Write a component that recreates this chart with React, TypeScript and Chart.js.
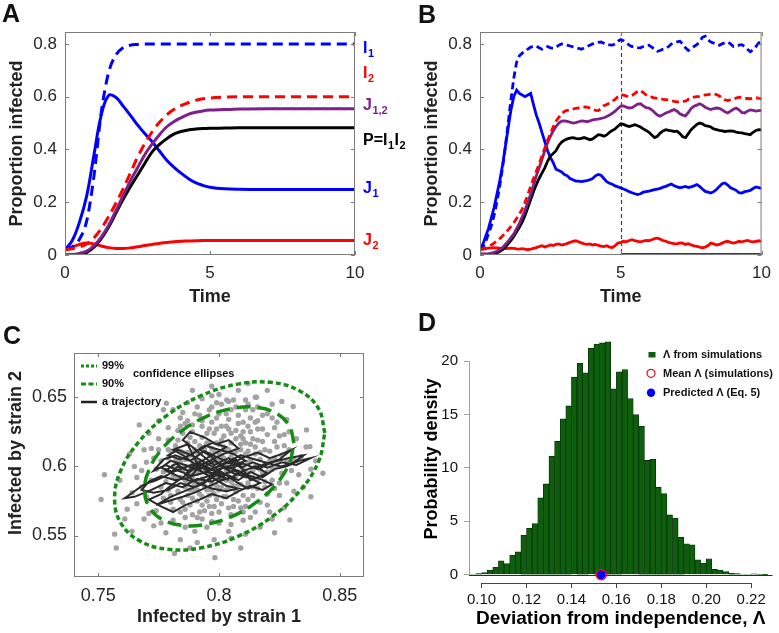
import React, { useEffect, useRef } from 'react';
import { Chart, registerables } from 'chart.js';
Chart.register(...registerables);

const FONT = "'Liberation Sans', Arial, Helvetica, sans-serif";
Chart.defaults.font.family = FONT;

const BLUE = '#0000ff';
const RED = '#ff0000';
const PURPLE = '#7e1f8a';
const BLACK = '#000000';
const GREEN = '#168c16';
const BAR_GREEN = '#0d5f0d';
const TICK = '#262626';

// ---------------- Panel A (deterministic) ----------------
const A_T = [0, 0.25, 0.5, 0.75, 1, 1.25, 1.5, 1.75, 2, 2.25, 2.5, 2.75, 3, 3.25, 3.5, 3.75, 4, 4.25, 4.5, 4.75, 5, 5.5, 6, 7, 8, 9, 10];
const A_I1 = [0.02, 0.03, 0.06, 0.13, 0.3, 0.54, 0.69, 0.757, 0.785, 0.795, 0.798, 0.8, 0.8, 0.8, 0.8, 0.8, 0.8, 0.8, 0.8, 0.8, 0.8, 0.8, 0.8, 0.8, 0.8, 0.8, 0.8];
const A_J1 = [0.02, 0.055, 0.125, 0.225, 0.38, 0.53, 0.604, 0.598, 0.565, 0.53, 0.493, 0.46, 0.43, 0.395, 0.36, 0.333, 0.31, 0.29, 0.274, 0.264, 0.257, 0.251, 0.249, 0.248, 0.248, 0.248, 0.248];
const A_I2 = [0.02, 0.024, 0.03, 0.042, 0.065, 0.1, 0.145, 0.195, 0.25, 0.31, 0.37, 0.422, 0.466, 0.502, 0.53, 0.551, 0.566, 0.577, 0.586, 0.592, 0.595, 0.598, 0.6, 0.6, 0.6, 0.6, 0.6];
const A_J12 = [0, 0.002, 0.006, 0.015, 0.035, 0.068, 0.112, 0.167, 0.224, 0.28, 0.33, 0.38, 0.42, 0.455, 0.485, 0.505, 0.52, 0.533, 0.541, 0.546, 0.549, 0.551, 0.553, 0.554, 0.554, 0.554, 0.554];
const A_P = [0, 0, 0.002, 0.01, 0.03, 0.062, 0.105, 0.158, 0.21, 0.258, 0.302, 0.347, 0.39, 0.418, 0.44, 0.458, 0.468, 0.474, 0.477, 0.479, 0.48, 0.481, 0.482, 0.482, 0.482, 0.482, 0.482];
const A_J2 = [0.02, 0.03, 0.04, 0.045, 0.042, 0.034, 0.028, 0.025, 0.025, 0.027, 0.031, 0.036, 0.04, 0.044, 0.047, 0.05, 0.052, 0.053, 0.054, 0.055, 0.055, 0.055, 0.055, 0.055, 0.055, 0.055, 0.055];
const A_XTICKS = [0, 5, 10];
const A_YTICKS = [0, 0.2, 0.4, 0.6, 0.8];

// ---------------- Panel B (stochastic) ----------------
const B_T = [
  0, 0.1, 0.2, 0.3, 0.4, 0.5, 0.6, 0.7, 0.8, 0.9,
  1, 1.1, 1.2, 1.3, 1.4, 1.5, 1.6, 1.7, 1.8, 1.9,
  2, 2.1, 2.2, 2.3, 2.4, 2.5, 2.6, 2.7, 2.8, 2.9,
  3, 3.1, 3.2, 3.3, 3.4, 3.5, 3.6, 3.7, 3.8, 3.9,
  4, 4.1, 4.2, 4.3, 4.4, 4.5, 4.6, 4.7, 4.8, 4.9,
  5, 5.1, 5.2, 5.3, 5.4, 5.5, 5.6, 5.7, 5.8, 5.9,
  6, 6.1, 6.2, 6.3, 6.4, 6.5, 6.6, 6.7, 6.8, 6.9,
  7, 7.1, 7.2, 7.3, 7.4, 7.5, 7.6, 7.7, 7.8, 7.9,
  8, 8.1, 8.2, 8.3, 8.4, 8.5, 8.6, 8.7, 8.8, 8.9,
  9, 9.1, 9.2, 9.3, 9.4, 9.5, 9.6, 9.7, 9.8, 9.9,
  10,
];
const B_I1 = [
  0.02, 0.03, 0.05, 0.08, 0.11, 0.15, 0.2, 0.26, 0.33, 0.41,
  0.5, 0.59, 0.67, 0.73, 0.755, 0.765, 0.772, 0.78, 0.788, 0.79,
  0.792, 0.785, 0.78, 0.786, 0.79, 0.785, 0.784, 0.787, 0.795, 0.8,
  0.798, 0.795, 0.792, 0.789, 0.786, 0.783, 0.78, 0.785, 0.79, 0.795,
  0.8, 0.803, 0.806, 0.807, 0.802, 0.797, 0.796, 0.795, 0.8, 0.81,
  0.816, 0.812, 0.805, 0.795, 0.79, 0.789, 0.786, 0.785, 0.79, 0.794,
  0.795, 0.788, 0.78, 0.772, 0.775, 0.78, 0.782, 0.79, 0.8, 0.804,
  0.808, 0.81, 0.8, 0.785, 0.775, 0.782, 0.79, 0.797, 0.808, 0.825,
  0.829, 0.815, 0.807, 0.803, 0.798, 0.795, 0.8, 0.805, 0.807, 0.8,
  0.79, 0.792, 0.795, 0.797, 0.79, 0.78, 0.77, 0.778, 0.79, 0.804,
  0.805,
];
const B_J1 = [
  0.02, 0.04, 0.07, 0.1, 0.14, 0.18, 0.23, 0.28, 0.34, 0.41,
  0.48, 0.55, 0.6, 0.625, 0.612, 0.606, 0.6, 0.606, 0.612, 0.57,
  0.53, 0.5, 0.465, 0.43, 0.395, 0.37, 0.35, 0.325, 0.32, 0.315,
  0.305, 0.3, 0.29, 0.285, 0.28, 0.28, 0.278, 0.28, 0.282, 0.285,
  0.29, 0.3, 0.305, 0.302, 0.29, 0.278, 0.272, 0.268, 0.262, 0.258,
  0.254, 0.25, 0.245, 0.24, 0.236, 0.232, 0.229, 0.232, 0.238, 0.24,
  0.242, 0.245, 0.248, 0.25, 0.252, 0.257, 0.26, 0.265, 0.269, 0.262,
  0.258, 0.255, 0.257, 0.26, 0.256, 0.258, 0.262, 0.267, 0.26, 0.25,
  0.241, 0.238, 0.235, 0.24, 0.248, 0.26, 0.27, 0.273, 0.265, 0.255,
  0.25, 0.245, 0.236, 0.235, 0.24, 0.242, 0.245, 0.252, 0.258, 0.255,
  0.252,
];
const B_I2 = [
  0.02, 0.023, 0.027, 0.032, 0.038, 0.045, 0.053, 0.062, 0.072, 0.083,
  0.095, 0.108, 0.122, 0.138, 0.155, 0.175, 0.2, 0.23, 0.26, 0.29,
  0.317, 0.345, 0.375, 0.405, 0.435, 0.46, 0.485, 0.507, 0.522, 0.535,
  0.545, 0.548, 0.55, 0.553, 0.556, 0.557, 0.56, 0.561, 0.56, 0.557,
  0.552, 0.548, 0.547, 0.555, 0.566, 0.57, 0.576, 0.583, 0.59, 0.6,
  0.608, 0.606, 0.602, 0.6, 0.605, 0.612, 0.62, 0.623, 0.615, 0.607,
  0.6, 0.598, 0.595, 0.593, 0.592, 0.59, 0.589, 0.588, 0.585, 0.582,
  0.58, 0.58, 0.582, 0.583, 0.59, 0.595, 0.598, 0.6, 0.601, 0.604,
  0.607, 0.608, 0.61, 0.61, 0.608, 0.603, 0.595, 0.588, 0.585, 0.588,
  0.59, 0.595, 0.598, 0.596, 0.594, 0.593, 0.592, 0.594, 0.596, 0.594,
  0.592,
];
const B_J12 = [
  0.005, 0.004, 0.004, 0.005, 0.007, 0.01, 0.014, 0.02, 0.028, 0.04,
  0.052, 0.066, 0.08, 0.1, 0.12, 0.145, 0.17, 0.2, 0.23, 0.265,
  0.3, 0.33, 0.362, 0.395, 0.425, 0.45, 0.47, 0.487, 0.5, 0.507,
  0.508, 0.506, 0.503, 0.5, 0.502, 0.505, 0.508, 0.507, 0.505, 0.508,
  0.512, 0.514, 0.515, 0.518, 0.52, 0.525, 0.53, 0.537, 0.545, 0.555,
  0.564, 0.565, 0.56, 0.557, 0.558, 0.565, 0.572, 0.573, 0.565, 0.558,
  0.557, 0.55, 0.54, 0.53, 0.526, 0.532, 0.538, 0.542, 0.547, 0.551,
  0.545, 0.535, 0.53, 0.527, 0.54, 0.555, 0.564, 0.568, 0.573, 0.568,
  0.56, 0.555, 0.551, 0.555, 0.557, 0.556, 0.55, 0.543, 0.538, 0.545,
  0.552, 0.557, 0.55, 0.54, 0.538, 0.545, 0.55, 0.548, 0.545, 0.547,
  0.548,
];
const B_P = [
  0, 0, 0, 0.001, 0.002, 0.004, 0.008, 0.013, 0.02, 0.03,
  0.042, 0.055, 0.07, 0.088, 0.105, 0.125, 0.15, 0.18, 0.21, 0.24,
  0.267, 0.29, 0.31, 0.33, 0.355, 0.375, 0.385, 0.395, 0.415, 0.428,
  0.435, 0.44, 0.443, 0.445, 0.442, 0.44, 0.442, 0.445, 0.441, 0.437,
  0.44, 0.448, 0.456, 0.454, 0.45, 0.455, 0.465, 0.472, 0.478, 0.488,
  0.497, 0.495, 0.49, 0.487, 0.49, 0.494, 0.49, 0.485, 0.478, 0.472,
  0.465, 0.455, 0.445, 0.45, 0.462, 0.47, 0.475, 0.472, 0.47, 0.468,
  0.469, 0.46, 0.448, 0.445, 0.46, 0.475, 0.485, 0.495, 0.5, 0.497,
  0.49, 0.488, 0.485, 0.478, 0.475, 0.472, 0.47, 0.468, 0.469, 0.47,
  0.469, 0.466, 0.464, 0.463, 0.46, 0.458, 0.456, 0.465, 0.472, 0.475,
  0.474,
];
const B_J2 = [
  0.02, 0.022, 0.024, 0.026, 0.027, 0.028, 0.027, 0.026, 0.025, 0.024,
  0.025, 0.026, 0.025, 0.023, 0.022, 0.024, 0.022, 0.02, 0.022, 0.025,
  0.028, 0.032, 0.035, 0.03, 0.034, 0.038, 0.036, 0.04, 0.042, 0.038,
  0.04, 0.044, 0.048, 0.052, 0.054, 0.05, 0.046, 0.042, 0.04, 0.042,
  0.038, 0.04, 0.036, 0.034, 0.032, 0.035, 0.03, 0.028, 0.035, 0.045,
  0.048, 0.052, 0.05, 0.055, 0.058, 0.054, 0.052, 0.05, 0.053, 0.055,
  0.054, 0.058, 0.062, 0.064, 0.06, 0.055, 0.052, 0.048, 0.045, 0.043,
  0.042, 0.046, 0.045, 0.04, 0.043, 0.038, 0.035, 0.033, 0.03, 0.027,
  0.03, 0.036, 0.045, 0.042, 0.038, 0.04, 0.045, 0.05, 0.052, 0.048,
  0.045, 0.048, 0.052, 0.05, 0.053, 0.055, 0.052, 0.05, 0.052, 0.054,
  0.052,
];
const B_BASE_T = [5, 10];
const B_BASE_V = [0, 0];
const B_VLINE = 5;

// ---------------- Panel C (scatter) ----------------
const C_POINTS: number[][] = [
  [0.781, 0.586], [0.784, 0.592], [0.787, 0.579], [0.789, 0.601], [0.792, 0.588], [0.795, 0.596], [0.797, 0.583], [0.799, 0.604],
  [0.802, 0.591], [0.804, 0.612], [0.806, 0.598], [0.809, 0.607], [0.811, 0.593], [0.813, 0.616], [0.786, 0.605], [0.79, 0.612],
  [0.793, 0.578], [0.796, 0.609], [0.798, 0.571], [0.801, 0.619], [0.803, 0.583], [0.805, 0.624], [0.808, 0.587], [0.81, 0.62],
  [0.783, 0.598], [0.788, 0.594], [0.791, 0.604], [0.794, 0.586], [0.797, 0.613], [0.8, 0.599], [0.802, 0.606], [0.805, 0.589],
  [0.807, 0.611], [0.812, 0.603], [0.815, 0.609], [0.817, 0.598], [0.785, 0.574], [0.789, 0.583], [0.792, 0.567], [0.795, 0.575],
  [0.799, 0.586], [0.803, 0.578], [0.806, 0.571], [0.781, 0.6], [0.784, 0.611], [0.787, 0.617], [0.79, 0.596], [0.793, 0.621],
  [0.796, 0.627], [0.799, 0.617], [0.801, 0.629], [0.804, 0.634], [0.807, 0.626], [0.81, 0.632], [0.813, 0.625], [0.816, 0.619],
  [0.819, 0.612], [0.821, 0.604], [0.818, 0.627], [0.782, 0.591], [0.786, 0.585], [0.794, 0.601], [0.798, 0.593], [0.8, 0.609],
  [0.806, 0.603], [0.808, 0.596], [0.811, 0.609], [0.814, 0.597], [0.792, 0.598], [0.796, 0.59], [0.803, 0.597], [0.788, 0.608],
  [0.809, 0.616], [0.815, 0.632], [0.812, 0.588], [0.817, 0.605], [0.82, 0.596], [0.823, 0.618], [0.779, 0.583], [0.777, 0.596],
  [0.776, 0.604], [0.78, 0.611], [0.783, 0.619], [0.785, 0.624], [0.79, 0.587], [0.791, 0.575], [0.797, 0.602], [0.801, 0.585],
  [0.804, 0.6], [0.807, 0.582], [0.81, 0.579], [0.814, 0.585], [0.816, 0.591], [0.819, 0.585], [0.822, 0.59], [0.824, 0.6],
  [0.826, 0.608], [0.8, 0.638], [0.797, 0.632], [0.793, 0.629], [0.789, 0.625], [0.786, 0.631], [0.805, 0.641], [0.808, 0.637],
  [0.811, 0.641], [0.798, 0.624], [0.802, 0.614], [0.795, 0.617], [0.788, 0.572], [0.793, 0.562], [0.797, 0.566], [0.801, 0.573],
  [0.805, 0.565], [0.809, 0.57], [0.812, 0.576], [0.784, 0.567], [0.78, 0.574], [0.778, 0.589],
  [0.772, 0.59], [0.77, 0.578], [0.768, 0.597], [0.773, 0.606], [0.774, 0.568], [0.771, 0.566], [0.776, 0.559], [0.781, 0.561],
  [0.786, 0.556], [0.79, 0.553], [0.795, 0.556], [0.8, 0.559], [0.804, 0.553], [0.81, 0.561], [0.815, 0.567], [0.82, 0.572],
  [0.825, 0.579], [0.828, 0.588], [0.83, 0.597], [0.829, 0.612], [0.827, 0.623], [0.824, 0.632], [0.82, 0.638], [0.816, 0.643],
  [0.811, 0.648], [0.804, 0.647], [0.797, 0.643], [0.79, 0.638], [0.784, 0.635], [0.779, 0.628], [0.775, 0.62], [0.772, 0.613],
  [0.768, 0.585], [0.766, 0.573], [0.764, 0.581], [0.766, 0.592], [0.77, 0.603], [0.775, 0.633], [0.781, 0.641], [0.787, 0.646],
  [0.793, 0.649], [0.8, 0.652], [0.808, 0.655], [0.815, 0.65], [0.822, 0.645], [0.828, 0.634], [0.832, 0.62], [0.834, 0.607],
  [0.833, 0.594], [0.831, 0.582], [0.827, 0.57], [0.822, 0.562], [0.817, 0.556], [0.811, 0.551], [0.805, 0.548], [0.798, 0.547],
  [0.791, 0.545], [0.784, 0.547], [0.778, 0.552], [0.773, 0.557], [0.769, 0.562], [0.762, 0.569], [0.765, 0.6], [0.769, 0.612],
  [0.777, 0.641], [0.789, 0.655], [0.82, 0.655], [0.826, 0.647], [0.836, 0.614], [0.838, 0.598], [0.835, 0.585],
  [0.7526, 0.594], [0.7512, 0.576], [0.7568, 0.551], [0.7575, 0.541], [0.7816, 0.537], [0.7983, 0.534], [0.8155, 0.65],
  [0.8307, 0.6433], [0.8362, 0.6264], [0.8376, 0.6143], [0.8293, 0.5613], [0.7782, 0.6457], [0.8032, 0.648], [0.759, 0.59],
  [0.761, 0.562], [0.764, 0.553], [0.788, 0.541], [0.809, 0.541], [0.823, 0.552], [0.84, 0.604], [0.812, 0.66], [0.797, 0.658],
  [0.771, 0.624], [0.767, 0.63], [0.843, 0.595], [0.838, 0.578], [0.763, 0.609],
  [0.776, 0.585], [0.778, 0.597], [0.779, 0.606], [0.78, 0.579], [0.781, 0.593], [0.782, 0.604], [0.782, 0.615], [0.783, 0.582],
  [0.784, 0.576], [0.784, 0.603], [0.785, 0.597], [0.785, 0.61], [0.786, 0.59], [0.786, 0.6], [0.787, 0.588], [0.787, 0.61],
  [0.788, 0.583], [0.788, 0.6], [0.788, 0.621], [0.789, 0.591], [0.789, 0.577], [0.79, 0.605], [0.79, 0.618], [0.791, 0.583],
  [0.791, 0.595], [0.791, 0.61], [0.792, 0.58], [0.792, 0.615], [0.793, 0.591], [0.793, 0.603], [0.793, 0.572], [0.794, 0.596],
  [0.794, 0.612], [0.795, 0.583], [0.795, 0.602], [0.795, 0.624], [0.796, 0.579], [0.796, 0.596], [0.796, 0.617], [0.797, 0.587],
  [0.797, 0.607], [0.798, 0.58], [0.798, 0.599], [0.798, 0.611], [0.799, 0.592], [0.799, 0.627], [0.8, 0.583], [0.8, 0.603],
  [0.8, 0.616], [0.801, 0.594], [0.801, 0.608], [0.802, 0.578], [0.802, 0.6], [0.802, 0.622], [0.803, 0.59], [0.803, 0.611],
  [0.804, 0.584], [0.804, 0.596], [0.804, 0.627], [0.805, 0.607], [0.805, 0.617], [0.806, 0.586], [0.806, 0.61], [0.807, 0.593],
  [0.807, 0.62], [0.808, 0.602], [0.808, 0.631], [0.809, 0.587], [0.809, 0.612], [0.81, 0.598], [0.81, 0.625], [0.811, 0.585],
  [0.811, 0.617], [0.812, 0.595], [0.812, 0.611], [0.813, 0.604], [0.813, 0.635], [0.814, 0.592], [0.814, 0.62], [0.815, 0.6],
  [0.815, 0.614], [0.816, 0.584], [0.816, 0.627], [0.817, 0.61], [0.818, 0.595], [0.818, 0.618], [0.819, 0.602], [0.82, 0.623],
  [0.821, 0.611], [0.822, 0.598], [0.823, 0.606], [0.824, 0.614], [0.825, 0.622], [0.783, 0.626], [0.787, 0.633], [0.792, 0.637],
  [0.796, 0.641], [0.801, 0.645], [0.806, 0.648], [0.779, 0.619], [0.8, 0.567], [0.794, 0.568], [0.786, 0.563], [0.806, 0.576],
  [0.81, 0.567], [0.817, 0.574], [0.82, 0.58], [0.825, 0.588], [0.828, 0.603], [0.827, 0.615], [0.803, 0.638], [0.799, 0.646],
  [0.791, 0.643], [0.775, 0.612], [0.774, 0.598], [0.777, 0.577], [0.781, 0.569], [0.789, 0.565], [0.797, 0.56], [0.805, 0.558],
  [0.813, 0.563], [0.821, 0.567], [0.818, 0.637], [0.812, 0.645], [0.823, 0.628], [0.829, 0.625], [0.826, 0.595], [0.831, 0.605],
  [0.779, 0.612], [0.785, 0.639], [0.797, 0.651], [0.807, 0.643], [0.814, 0.641], [0.793, 0.633], [0.789, 0.63], [0.784, 0.629],
  [0.799, 0.635], [0.803, 0.629], [0.809, 0.622], [0.812, 0.629], [0.816, 0.633], [0.822, 0.635], [0.786, 0.569], [0.791, 0.563],
  [0.796, 0.571], [0.799, 0.576], [0.804, 0.57], [0.808, 0.575], [0.811, 0.571], [0.814, 0.579], [0.819, 0.589], [0.823, 0.584],
];
const C_TRAJ: number[][] = [
  [0.796, 0.598], [0.792, 0.602], [0.788, 0.596], [0.783, 0.6], [0.779, 0.594], [0.774, 0.59], [0.769, 0.587], [0.765, 0.582],
  [0.761, 0.577], [0.765, 0.578], [0.772, 0.583], [0.778, 0.588], [0.785, 0.585], [0.791, 0.591], [0.797, 0.589], [0.803, 0.594],
  [0.808, 0.59], [0.813, 0.596], [0.818, 0.592], [0.823, 0.598], [0.828, 0.6], [0.833, 0.604], [0.838, 0.606], [0.832, 0.601],
  [0.826, 0.603], [0.82, 0.599], [0.814, 0.603], [0.809, 0.599], [0.804, 0.606], [0.798, 0.601], [0.793, 0.608], [0.789, 0.614],
  [0.785, 0.619], [0.788, 0.625], [0.794, 0.621], [0.799, 0.616], [0.804, 0.619], [0.808, 0.613], [0.802, 0.609], [0.796, 0.604],
  [0.79, 0.599], [0.785, 0.592], [0.78, 0.586], [0.776, 0.58], [0.771, 0.576], [0.776, 0.571], [0.781, 0.567], [0.786, 0.572],
  [0.792, 0.576], [0.797, 0.58], [0.803, 0.577], [0.808, 0.582], [0.813, 0.586], [0.818, 0.583], [0.822, 0.587], [0.817, 0.591],
  [0.811, 0.594], [0.806, 0.597], [0.8, 0.593], [0.795, 0.596], [0.789, 0.593], [0.783, 0.597], [0.778, 0.601], [0.773, 0.597],
  [0.777, 0.605], [0.782, 0.608], [0.788, 0.604], [0.794, 0.611], [0.8, 0.606], [0.805, 0.602], [0.811, 0.607], [0.816, 0.61],
  [0.821, 0.606], [0.826, 0.609], [0.83, 0.612], [0.825, 0.605], [0.818, 0.601], [0.812, 0.598], [0.806, 0.593], [0.8, 0.589],
  [0.795, 0.585], [0.79, 0.581], [0.785, 0.578], [0.779, 0.575], [0.774, 0.572], [0.78, 0.578], [0.787, 0.583], [0.793, 0.587],
  [0.799, 0.594], [0.804, 0.59], [0.798, 0.597], [0.791, 0.6], [0.786, 0.607], [0.781, 0.612], [0.787, 0.616], [0.793, 0.595],
  [0.801, 0.601], [0.807, 0.605], [0.813, 0.59], [0.82, 0.595],
  [0.815, 0.6], [0.809, 0.596], [0.803, 0.6], [0.797, 0.595], [0.792, 0.6], [0.788, 0.592], [0.782, 0.59], [0.776, 0.593],
  [0.771, 0.589], [0.768, 0.583], [0.773, 0.581], [0.779, 0.583], [0.784, 0.588], [0.79, 0.585], [0.795, 0.59], [0.8, 0.598],
  [0.806, 0.601], [0.811, 0.604], [0.806, 0.609], [0.8, 0.612], [0.794, 0.615], [0.789, 0.609], [0.784, 0.605], [0.779, 0.608],
  [0.783, 0.612], [0.79, 0.607], [0.796, 0.601], [0.801, 0.596], [0.807, 0.589], [0.812, 0.584], [0.817, 0.588], [0.812, 0.592],
  [0.806, 0.595], [0.801, 0.6], [0.797, 0.607], [0.792, 0.612], [0.797, 0.617], [0.803, 0.614], [0.798, 0.609], [0.793, 0.604],
  [0.787, 0.6], [0.781, 0.596], [0.776, 0.599], [0.78, 0.604], [0.786, 0.601], [0.792, 0.597], [0.798, 0.591], [0.803, 0.586],
  [0.808, 0.584], [0.803, 0.582], [0.797, 0.584], [0.791, 0.588], [0.786, 0.594], [0.791, 0.603], [0.797, 0.598], [0.803, 0.603],
  [0.809, 0.608], [0.815, 0.605], [0.821, 0.602], [0.826, 0.6], [0.831, 0.603], [0.835, 0.608], [0.829, 0.606], [0.822, 0.603],
  [0.816, 0.598], [0.81, 0.602], [0.804, 0.598], [0.798, 0.604], [0.793, 0.599], [0.787, 0.597], [0.782, 0.602], [0.778, 0.597],
  [0.783, 0.593], [0.789, 0.589], [0.794, 0.592], [0.8, 0.596], [0.806, 0.592], [0.8, 0.59],
];
const C_ELLIPSE_99: number[][] = [
  [0.8438, 0.6241], [0.8412, 0.6418], [0.8336, 0.6544], [0.8221, 0.6606], [0.8078, 0.6595], [0.7928, 0.6513],
  [0.7785, 0.6369], [0.767, 0.6181], [0.7594, 0.5972], [0.7568, 0.5767], [0.7594, 0.559], [0.767, 0.5463],
  [0.7785, 0.5401], [0.7928, 0.5412], [0.8078, 0.5494], [0.8221, 0.5638], [0.8336, 0.5826], [0.8412, 0.6035],
  [0.8438, 0.6241],
];
const C_ELLIPSE_90: number[][] = [
  [0.831, 0.6168], [0.8291, 0.6293], [0.8238, 0.6383], [0.8155, 0.6427], [0.8055, 0.6419], [0.7947, 0.636],
  [0.7847, 0.6259], [0.7764, 0.6126], [0.7711, 0.5978], [0.7692, 0.5832], [0.7711, 0.5707], [0.7764, 0.5617],
  [0.7847, 0.5573], [0.7947, 0.5581], [0.8055, 0.5639], [0.8155, 0.5741], [0.8238, 0.5874], [0.8291, 0.6022],
  [0.831, 0.6168],
];
const C_XTICKS = [0.75, 0.8, 0.85];
const C_YTICKS = [0.55, 0.6, 0.65];

// ---------------- Panel D (histogram) ----------------
const D_BIN_START = [
  0.095, 0.0975, 0.1, 0.1025, 0.105, 0.1075, 0.11, 0.1125, 0.115, 0.1175,
  0.12, 0.1225, 0.125, 0.1275, 0.13, 0.1325, 0.135, 0.1375, 0.14, 0.1425,
  0.145, 0.1475, 0.15, 0.1525, 0.155, 0.1575, 0.16, 0.1625, 0.165, 0.1675,
  0.17, 0.1725, 0.175, 0.1775, 0.18, 0.1825, 0.185, 0.1875, 0.19, 0.1925,
  0.195, 0.1975, 0.2, 0.2025, 0.205, 0.2075, 0.21, 0.2125, 0.215, 0.2175,
  0.22, 0.2225, 0.225,
];
const D_DENSITY = [
  0.05, 0.1, 0.2, 0.45, 0.7, 1.3, 1.05, 1.85, 2.15, 3.7,
  4.35, 4.8, 7.2, 8.5, 11.1, 12.5, 14.6, 15.8, 18.5, 19.8,
  18.9, 21.2, 21.6, 21.7, 21.8, 17.4, 19.0, 19.2, 16.5, 15.0,
  13.9, 10.7, 10.8, 8.2, 7.6, 5.6, 5.3, 3.5, 2.9, 2.8,
  1.4, 1.1, 1.5, 0.5, 0.45, 0.3, 0.15, 0.1, 0.05, 0.05,
  0.08, 0.03, 0.02,
];
const D_BIN_WIDTH = 0.0025;
const D_MEAN = 0.1533;
const D_PRED = 0.1531;
const D_XTICKS = [0.1, 0.12, 0.14, 0.16, 0.18, 0.2, 0.22];
const D_YTICKS = [0, 5, 10, 15, 20];

// ---------------- helpers ----------------
const fixedTicks = (vals: number[]) => (scale: any) => {
  scale.ticks = vals.map((v) => ({ value: v }));
};
const fmt = (v: any) => String(Math.round(Number(v) * 1000) / 1000);
const xy = (xs: number[], ys: number[]) => xs.map((x, i) => ({ x, y: ys[i] ?? null }));
const pairs = (arr: number[][]) => arr.map((p) => ({ x: p[0], y: p[1] }));

const boxPlugin = {
  id: 'mbox',
  afterDatasetsDraw(chart: any) {
    const { ctx, chartArea: a, scales } = chart;
    ctx.save();
    ctx.strokeStyle = '#7c7c7c';
    ctx.lineWidth = 1;
    ctx.setLineDash([]);
    ctx.strokeRect(a.left + 0.5, a.top + 0.5, a.right - a.left - 1, a.bottom - a.top - 1);
    const L = 4;
    ctx.beginPath();
    for (const t of scales.x.ticks) {
      const px = Math.round(scales.x.getPixelForValue(t.value)) + 0.5;
      ctx.moveTo(px, a.bottom);
      ctx.lineTo(px, a.bottom - L);
      ctx.moveTo(px, a.top);
      ctx.lineTo(px, a.top + L);
    }
    for (const t of scales.y.ticks) {
      const py = Math.round(scales.y.getPixelForValue(t.value)) + 0.5;
      ctx.moveTo(a.left, py);
      ctx.lineTo(a.left + L, py);
      ctx.moveTo(a.right, py);
      ctx.lineTo(a.right - L, py);
    }
    ctx.stroke();
    ctx.restore();
  },
};

const tickFont = { family: FONT, size: 17 };
const titleFont = { family: FONT, size: 18, weight: 'bold' as const };

function timeScales() {
  return {
    x: {
      type: 'linear', min: 0, max: 10,
      afterBuildTicks: fixedTicks(A_XTICKS),
      afterFit: (s: any) => { s.height = 65; },
      grid: { display: false, drawTicks: false },
      border: { display: false },
      ticks: { font: tickFont, color: TICK, padding: 8, maxRotation: 0, autoSkip: false, callback: fmt },
      title: { display: true, text: 'Time', font: titleFont, color: '#222', padding: 12 },
    },
    y: {
      type: 'linear', min: 0, max: 0.845,
      afterBuildTicks: fixedTicks(A_YTICKS),
      afterFit: (s: any) => { s.width = 65; },
      grid: { display: false, drawTicks: false },
      border: { display: false },
      ticks: { font: tickFont, color: TICK, padding: 8, autoSkip: false, callback: fmt },
      title: { display: true, text: 'Proportion infected', font: titleFont, color: '#222', padding: 6 },
    },
  };
}

// ---------------- Panel A ----------------
const A_LABELS = [
  { parts: [['I', 0], ['1', 1]], color: BLUE, at: 0.785 },
  { parts: [['I', 0], ['2', 1]], color: RED, at: 0.69 },
  { parts: [['J', 0], ['1,2', 1]], color: PURPLE, at: 0.57 },
  { parts: [['P=I', 0], ['1', 1], ['I', 0], ['2', 1]], color: BLACK, at: 0.436 },
  { parts: [['J', 0], ['1', 1]], color: BLUE, at: 0.254 },
  { parts: [['J', 0], ['2', 1]], color: RED, at: 0.057 },
];

const aLabelPlugin = {
  id: 'aLabels',
  afterDraw(chart: any) {
    const { ctx, chartArea: a, scales } = chart;
    ctx.save();
    ctx.textBaseline = 'alphabetic';
    ctx.textAlign = 'left';
    for (const lab of A_LABELS) {
      const yc = scales.y.getPixelForValue(lab.at);
      let x = a.right + 8;
      ctx.fillStyle = lab.color;
      for (const [txt, sub] of lab.parts as any) {
        if (sub) {
          ctx.font = `bold 11px ${FONT}`;
          ctx.fillText(txt, x, yc + 9);
        } else {
          ctx.font = `bold 16px ${FONT}`;
          ctx.fillText(txt, x, yc + 5);
        }
        x += ctx.measureText(txt).width + 0.5;
      }
    }
    ctx.restore();
  },
};

function buildA(): any {
  const line = (label: string, ys: number[], color: string, dash: number[], order: number, mono = true) => ({
    label, data: xy(A_T, ys), borderColor: color, backgroundColor: color, borderWidth: 3, borderDash: dash,
    pointRadius: 0, showLine: true, fill: false,
    cubicInterpolationMode: mono ? 'monotone' : 'default', tension: mono ? 0 : 0.4, order,
  });
  return {
    type: 'scatter',
    data: {
      datasets: [
        line('I2', A_I2, RED, [10, 6], 1),
        line('I1', A_I1, BLUE, [10, 6], 2),
        line('J12', A_J12, PURPLE, [], 3),
        line('P', A_P, BLACK, [], 4),
        line('J1', A_J1, BLUE, [], 5, false),
        line('J2', A_J2, RED, [], 6),
      ],
    },
    options: {
      responsive: false, animation: false, events: [],
      layout: { padding: { left: 0, top: 32, right: 65, bottom: 0 } },
      plugins: { legend: { display: false }, tooltip: { enabled: false } },
      scales: timeScales(),
    },
    plugins: [boxPlugin, aLabelPlugin],
  };
}

// ---------------- Panel B ----------------
const bVlinePlugin = {
  id: 'bVline',
  beforeDatasetsDraw(chart: any) {
    const { ctx, chartArea: a, scales } = chart;
    const x = Math.round(scales.x.getPixelForValue(B_VLINE)) + 0.5;
    ctx.save();
    ctx.strokeStyle = '#444';
    ctx.lineWidth = 1.2;
    ctx.setLineDash([4, 3]);
    ctx.beginPath();
    ctx.moveTo(x, a.top);
    ctx.lineTo(x, a.bottom);
    ctx.stroke();
    ctx.restore();
  },
};

function buildB(): any {
  const line = (label: string, ys: number[], color: string, dash: number[], order: number) => ({
    label, data: xy(B_T, ys), borderColor: color, backgroundColor: color, borderWidth: 2.8, borderDash: dash,
    pointRadius: 0, showLine: true, fill: false, tension: 0, order,
  });
  return {
    type: 'scatter',
    data: {
      datasets: [
        line('I2', B_I2, RED, [7, 4], 1),
        line('I1', B_I1, BLUE, [7, 4], 2),
        line('J12', B_J12, PURPLE, [], 3),
        line('P', B_P, BLACK, [], 4),
        line('J1', B_J1, BLUE, [], 5),
        line('J2', B_J2, RED, [], 6),
        { ...line('base', [], BLACK, [], 0), data: xy(B_BASE_T, B_BASE_V), borderWidth: 3.5 },
      ],
    },
    options: {
      responsive: false, animation: false, events: [],
      layout: { padding: { left: 25, top: 32, right: 9, bottom: 0 } },
      plugins: { legend: { display: false }, tooltip: { enabled: false } },
      scales: timeScales(),
    },
    plugins: [boxPlugin, bVlinePlugin],
  };
}

// ---------------- Panel C ----------------
const cLegendPlugin = {
  id: 'cLegend',
  afterDraw(chart: any) {
    const ctx = chart.ctx;
    ctx.save();
    const seg = (y: number, dash: number[], color: string, w: number) => {
      ctx.beginPath();
      ctx.setLineDash(dash);
      ctx.strokeStyle = color;
      ctx.lineWidth = w;
      ctx.moveTo(81, y);
      ctx.lineTo(97, y);
      ctx.stroke();
    };
    seg(46, [3, 2], GREEN, 3);
    seg(64, [5, 2.5], GREEN, 3);
    seg(82, [], '#222', 2.5);
    ctx.setLineDash([]);
    ctx.font = `bold 11px ${FONT}`;
    ctx.fillStyle = '#111';
    ctx.textBaseline = 'middle';
    ctx.textAlign = 'left';
    ctx.fillText('99%', 102, 46);
    ctx.fillText('90%', 102, 64);
    ctx.fillText('confidence ellipses', 133, 54);
    ctx.fillText('a trajectory', 102, 82);
    // y-axis title
    ctx.translate(16.5, 133);
    ctx.rotate(-Math.PI / 2);
    ctx.font = `bold 18px ${FONT}`;
    ctx.fillStyle = '#222';
    ctx.textAlign = 'center';
    ctx.fillText('Infected by strain 2', 0, 0);
    ctx.restore();
  },
};

function buildC(): any {
  const cTick = { family: FONT, size: 18 };
  return {
    type: 'scatter',
    data: {
      datasets: [
        { label: '99%', data: pairs(C_ELLIPSE_99), showLine: true, borderColor: GREEN, borderWidth: 3.5, borderDash: [5, 3], pointRadius: 0, tension: 0.4, order: 1 },
        { label: '90%', data: pairs(C_ELLIPSE_90), showLine: true, borderColor: GREEN, borderWidth: 3.5, borderDash: [14, 7], pointRadius: 0, tension: 0.4, order: 2 },
        { label: 'a trajectory', data: pairs(C_TRAJ), showLine: true, borderColor: '#2a2a2a', borderWidth: 2, pointRadius: 0, tension: 0, order: 3 },
        { label: 'points', data: pairs(C_POINTS), showLine: false, pointRadius: 2.7, backgroundColor: '#a3a3a3', borderWidth: 0, order: 4 },
      ],
    },
    options: {
      responsive: false, animation: false, events: [],
      layout: { padding: { left: 0, top: 33, right: 26, bottom: 0 } },
      plugins: { legend: { display: false }, tooltip: { enabled: false } },
      scales: {
        x: {
          type: 'linear', min: 0.74, max: 0.86,
          afterBuildTicks: fixedTicks(C_XTICKS),
          afterFit: (s: any) => { s.height = 56; },
          grid: { display: false, drawTicks: false },
          border: { display: false },
          ticks: { font: cTick, color: TICK, padding: 8, maxRotation: 0, autoSkip: false, callback: fmt },
          title: { display: true, text: 'Infected by strain 1', font: titleFont, color: '#222', padding: 5 },
        },
        y: {
          type: 'linear', min: 0.52, max: 0.682,
          afterBuildTicks: fixedTicks(C_YTICKS),
          afterFit: (s: any) => { s.width = 74; },
          grid: { display: false, drawTicks: false },
          border: { display: false },
          ticks: { font: cTick, color: TICK, padding: 7, autoSkip: false, callback: fmt },
          title: { display: false },
        },
      },
    },
    plugins: [boxPlugin, cLegendPlugin],
  };
}

// ---------------- Panel D ----------------
const dAxesPlugin = {
  id: 'dAxes',
  afterDatasetDraw(chart: any, args: any) {
    if (args.meta.type !== 'bar') return;
    const { ctx, chartArea: a, scales } = chart;
    const y0 = Math.round(scales.y.getPixelForValue(0)) + 0.5;
    ctx.save();
    ctx.strokeStyle = '#2a2a2a';
    ctx.lineWidth = 1;
    ctx.beginPath();
    ctx.moveTo(a.left, y0);
    ctx.lineTo(a.right, y0);
    ctx.stroke();
    ctx.restore();
  },
  afterDraw(chart: any) {
    const { ctx, chartArea: a, scales } = chart;
    ctx.save();
    ctx.lineWidth = 1;
    ctx.strokeStyle = '#a0a0a0';
    ctx.beginPath();
    const xl = Math.round(a.left) + 0.5;
    ctx.moveTo(xl, scales.y.getPixelForValue(D_YTICKS[0]));
    ctx.lineTo(xl, scales.y.getPixelForValue(D_YTICKS[D_YTICKS.length - 1]));
    ctx.stroke();
    ctx.strokeStyle = '#444';
    ctx.beginPath();
    const yb = Math.round(a.bottom) + 0.5;
    ctx.moveTo(scales.x.getPixelForValue(D_XTICKS[0]), yb);
    ctx.lineTo(scales.x.getPixelForValue(D_XTICKS[D_XTICKS.length - 1]), yb);
    ctx.stroke();

    // legend
    ctx.font = `bold 11px ${FONT}`;
    ctx.textBaseline = 'middle';
    ctx.textAlign = 'left';
    ctx.fillStyle = BAR_GREEN;
    ctx.fillRect(258.5, 32, 7, 5.5);
    ctx.fillStyle = '#111';
    ctx.fillText('Λ from simulations', 273, 35);
    ctx.beginPath();
    ctx.arc(261, 53.3, 4, 0, Math.PI * 2);
    ctx.strokeStyle = '#e0102a';
    ctx.lineWidth = 1.3;
    ctx.stroke();
    ctx.fillText('Mean Λ (simulations)', 273, 53.5);
    ctx.beginPath();
    ctx.arc(261, 72.7, 4.2, 0, Math.PI * 2);
    ctx.fillStyle = BLUE;
    ctx.fill();
    ctx.fillStyle = '#111';
    ctx.fillText('Predicted Λ (Eq. 5)', 273, 73);
    ctx.restore();
  },
};

function buildD(): any {
  const dTick = { family: FONT, size: 15 };
  return {
    type: 'bar',
    data: {
      datasets: [
        {
          type: 'bar', label: 'Λ from simulations',
          data: D_BIN_START.map((s, i) => ({ x: s + D_BIN_WIDTH / 2, y: D_DENSITY[i] })),
          backgroundColor: BAR_GREEN, borderColor: '#062e06', borderWidth: 0.8,
          barPercentage: 1, categoryPercentage: 1, grouped: false, order: 3,
        },
        {
          type: 'line', label: 'Mean Λ (simulations)', data: [{ x: D_MEAN, y: 0 }], showLine: false,
          pointRadius: 5, pointBackgroundColor: 'rgba(0,0,0,0)', pointBorderColor: '#e0102a', pointBorderWidth: 1.5, order: 1, clip: false,
        },
        {
          type: 'line', label: 'Predicted Λ (Eq. 5)', data: [{ x: D_PRED, y: 0 }], showLine: false,
          pointRadius: 4.6, pointBackgroundColor: BLUE, pointBorderColor: BLUE, pointBorderWidth: 0, order: 2, clip: false,
        },
      ],
    },
    options: {
      responsive: false, animation: false, events: [],
      layout: { padding: { left: 0, top: 12, right: 6, bottom: 0 } },
      plugins: { legend: { display: false }, tooltip: { enabled: false } },
      scales: {
        x: {
          type: 'linear', min: 0.0944, max: 0.2295, offset: false,
          afterBuildTicks: fixedTicks(D_XTICKS),
          afterFit: (s: any) => { s.height = 50; },
          grid: { display: true, drawOnChartArea: false, drawTicks: true, tickLength: 5, color: '#444', offset: false },
          border: { display: false },
          ticks: { font: dTick, color: '#111', padding: 3, maxRotation: 0, autoSkip: false, callback: (v: any) => Number(v).toFixed(2) },
          title: { display: true, text: 'Deviation from independence, Λ', font: { family: FONT, size: 19, weight: 'bold' }, color: '#000', padding: 3 },
        },
        y: {
          type: 'linear', min: -0.77, max: 22.44,
          afterBuildTicks: fixedTicks(D_YTICKS),
          afterFit: (s: any) => { s.width = 79; },
          grid: { display: true, drawOnChartArea: false, drawTicks: true, tickLength: 5, color: '#a0a0a0' },
          border: { display: false },
          ticks: { font: dTick, color: '#111', padding: 6, autoSkip: false, callback: fmt },
          title: { display: true, text: 'Probability density', font: { family: FONT, size: 18, weight: 'bold' }, color: '#000', padding: 31 },
        },
      },
    },
    plugins: [dAxesPlugin],
  };
}

// ---------------- React ----------------
function ChartCanvas({ x, y, w, h, build }: any) {
  const ref = useRef<HTMLCanvasElement | null>(null);
  useEffect(() => {
    const chart = new Chart(ref.current as HTMLCanvasElement, build());
    return () => chart.destroy();
  }, []);
  return (
    <canvas
      ref={ref}
      width={w}
      height={h}
      style={{ position: 'absolute', left: x, top: y, width: w, height: h }}
    />
  );
}

const letterStyle = (left: number, top: number): React.CSSProperties => ({
  position: 'absolute', left, top, fontFamily: FONT, fontWeight: 'bold', fontSize: 25, lineHeight: '25px', color: '#111',
});

export default function App() {
  return (
    <div style={{ position: 'fixed', left: 0, top: 0, width: 779, height: 633, background: '#fff', overflow: 'hidden' }}>
      <ChartCanvas x={390} y={0} w={389} h={320} build={buildB} />
      <ChartCanvas x={0} y={0} w={420} h={320} build={buildA} />
      <ChartCanvas x={0} y={320} w={390} h={313} build={buildC} />
      <ChartCanvas x={390} y={320} w={389} h={313} build={buildD} />
      <div style={letterStyle(2, 1)}>A</div>
      <div style={letterStyle(418, 2)}>B</div>
      <div style={letterStyle(3, 323)}>C</div>
      <div style={letterStyle(418, 310)}>D</div>
    </div>
  );
}
